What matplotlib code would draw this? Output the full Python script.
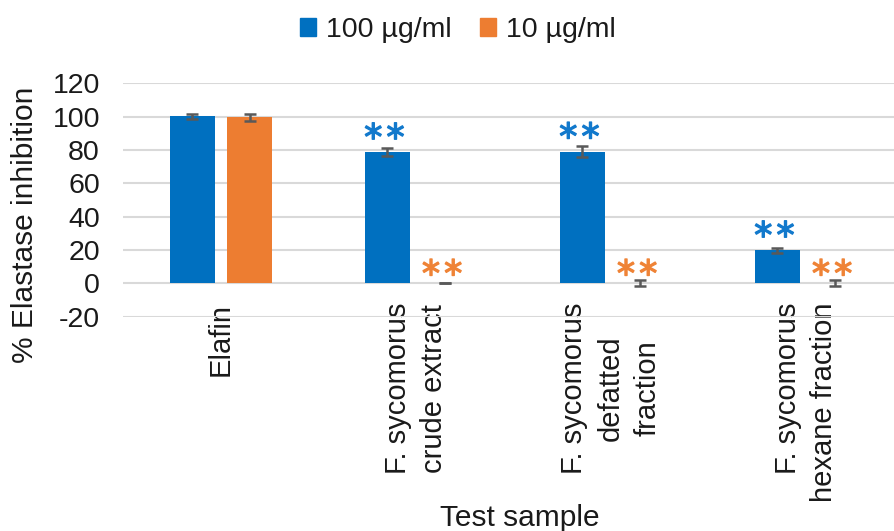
import matplotlib
matplotlib.use("Agg")
import matplotlib.pyplot as plt
import matplotlib.patheffects as pe
import numpy as np
from matplotlib.patches import Patch

plt.rcParams['font.family'] = ['Liberation Sans', 'DejaVu Sans']
plt.rcParams['axes.unicode_minus'] = False

# Data
categories = ["Elafin",
              "F. sycomorus\ncrude extract",
              "F. sycomorus\ndefatted\nfraction",
              "F. sycomorus\nhexane fraction"]
series_names = ["100 \u00b5g/ml", "10 \u00b5g/ml"]
inhib_100 = [100.3, 78.6, 79.0, 19.8]
err_100 = [1.5, 2.5, 3.5, 1.3]
inhib_10 = [99.6, 0.2, 0.2, 0.2]
err_10 = [2.2, 0.2, 1.8, 1.8]
sig_100 = [0, 2, 2, 2]   # number of asterisks
sig_10 = [0, 2, 2, 2]
y_ticks = [-20, 0, 20, 40, 60, 80, 100, 120]

blue = "#0070C0"
orange = "#ED7D31"
blue_txt = "#1279CC"
orange_txt = "#EF8336"
err_col = "#595959"
txt_col = "#1a1a1a"

fig = plt.figure(figsize=(8.95, 5.31), dpi=100)
W, H = 895, 531
left, right = 123.5, 903.5
top, bottom = 83.3, 316.7
ax = fig.add_axes([left / W, 1 - bottom / H, (right - left) / W, (bottom - top) / H])

x = np.arange(len(categories))
bw = 0.232
off = 0.148
ekw = dict(ecolor=err_col, elinewidth=1.8, capsize=4.5, capthick=1.8)
ax.bar(x - off, inhib_100, bw, color=blue, yerr=err_100, error_kw=ekw, zorder=3)
ax.bar(x + off, inhib_10, bw, color=orange, yerr=err_10, error_kw=ekw, zorder=3)


def stars(xc, yv, n, color, dy):
    # draw n asterisks side by side above a bar (offsets in points)
    step = 16.0
    for k in range(n):
        dx = -2.0 + (k - (n - 1) / 2) * step
        ax.annotate("*", xy=(xc, yv), xytext=(dx, dy), textcoords="offset points",
                    ha="center", va="baseline", fontsize=26, family="DejaVu Sans",
                    color=color, zorder=4,
                    path_effects=[pe.Stroke(linewidth=1.0, foreground=color), pe.Normal()])


for i in range(len(categories)):
    stars(x[i] - off, inhib_100[i], sig_100[i], blue_txt, 2)
    stars(x[i] + off, inhib_10[i], sig_10[i], orange_txt, -2)

ax.set_xlim(-0.5, 3.5)
ax.set_ylim(-20, 120)
ax.set_yticks(y_ticks)
ax.yaxis.grid(True, color="#D9D9D9", linewidth=1.5, zorder=0)
ax.set_axisbelow(True)
for s in ax.spines.values():
    s.set_visible(False)

ax.tick_params(axis="y", length=0, pad=17, labelsize=20.5, labelcolor=txt_col)
ax.set_xticks(x)
ax.set_xticklabels(categories, rotation=90, fontsize=21, color=txt_col,
                   multialignment="center", linespacing=1.4)
ax.get_xticklabels()[-1].set_multialignment("right")
ax.tick_params(axis="x", length=0, pad=-10)

fig.text(25 / W, 1 - 225 / H, "% Elastase inhibition", rotation=90,
         ha="center", va="center", fontsize=21.5, color=txt_col)
fig.text(520 / W, 1 - 518 / H, "Test sample", ha="center", va="center",
         fontsize=21.5, color=txt_col)

handles = [Patch(color=blue), Patch(color=orange)]
fig.legend(handles, series_names, loc="center", bbox_to_anchor=(458 / W, 1 - 30 / H),
           ncol=2, frameon=False, fontsize=20.5, handlelength=0.55, handleheight=0.55,
           handletextpad=0.35, columnspacing=1.0, labelcolor=txt_col)

fig.savefig("out.png", dpi=100)
